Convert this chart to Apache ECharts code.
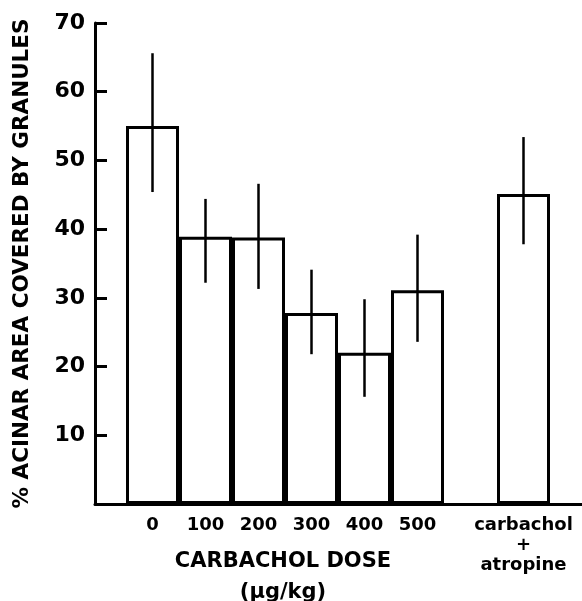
<!DOCTYPE html>
<html>
<head>
<meta charset="utf-8">
<script src="https://cdn.jsdelivr.net/npm/echarts@6/dist/echarts.min.js"></script>
<style>html,body{margin:0;padding:0;background:#fff}#c{width:582px;height:601px}</style>
</head>
<body>
<div id="c"></div>
<script>
var categories = ['0', '100', '200', '300', '400', '500', '', 'carbachol\n+\natropine'];
var means = [55, 38.9, 38.8, 27.8, 22, 31.1, null, 45.1];
var errLow = [45.4, 32.2, 31.3, 21.8, 15.6, 23.6, null, 37.8];
var errHigh = [65.6, 44.4, 46.6, 34.1, 29.8, 39.2, null, 53.4];
var yTicks = [10, 20, 30, 40, 50, 60, 70];

var chart = echarts.init(document.getElementById('c'));
var errData = [];
for (var i = 0; i < categories.length; i++) {
  if (errLow[i] != null) errData.push([i, errLow[i], errHigh[i]]);
}
var FONT = 'DejaVu Sans';
chart.setOption({
  animation: false,
  backgroundColor: '#fff',
  grid: [
    {left: 95, right: 0, top: 23, bottom: 97, containLabel: false, outerBoundsMode: 'none'},
    {left: 126, right: 32, top: 23, bottom: 97, containLabel: false, outerBoundsMode: 'none'}
  ],
  xAxis: [
    {gridIndex: 0, type: 'value', min: 0, max: 1,
     axisLine: {show: true, lineStyle: {color: '#000', width: 3}},
     axisTick: {show: false}, axisLabel: {show: false}, splitLine: {show: false}},
    {gridIndex: 1, type: 'category', data: categories, boundaryGap: true,
     axisLine: {show: false}, axisTick: {show: false}, splitLine: {show: false},
     axisLabel: {color: '#000', fontFamily: FONT, fontWeight: 'bold', fontSize: 18,
       margin: 11, lineHeight: 20, interval: 0}}
  ],
  yAxis: [
    {gridIndex: 0, type: 'value', min: 0, max: 70, interval: 10,
     axisLine: {show: true, lineStyle: {color: '#000', width: 3}},
     axisTick: {show: true, inside: true, length: 12, lineStyle: {color: '#000', width: 3}},
     axisLabel: {color: '#000', fontFamily: FONT, fontWeight: 'bold', fontSize: 22, margin: 10,
       formatter: function (v) { return yTicks.indexOf(v) >= 0 ? String(v) : ''; }},
     splitLine: {show: false},
     name: '% ACINAR AREA COVERED BY GRANULES', nameLocation: 'middle', nameRotate: 90, nameGap: 62,
     nameTextStyle: {color: '#000', fontFamily: FONT, fontWeight: 'bold', fontSize: 21.5}},
    {gridIndex: 1, type: 'value', min: 0, max: 70, interval: 10, show: false}
  ],
  graphic: [
    {type: 'text', x: 283, y: 546, style: {
      text: 'CARBACHOL DOSE\n(μg/kg)', textAlign: 'center', fill: '#000',
      font: 'bold 21px "DejaVu Sans"', lineHeight: 31}}
  ],
  series: [
    {type: 'bar', xAxisIndex: 1, yAxisIndex: 1, data: means, barCategoryGap: '0%',
     itemStyle: {color: 'rgba(255,255,255,0)', borderColor: '#000', borderWidth: 3}},
    {type: 'custom', xAxisIndex: 1, yAxisIndex: 1, data: errData, z: 5,
     renderItem: function (params, api) {
       var lo = api.coord([api.value(0), api.value(1)]);
       var hi = api.coord([api.value(0), api.value(2)]);
       return {type: 'line', shape: {x1: lo[0], y1: lo[1], x2: hi[0], y2: hi[1]},
         style: {stroke: '#000', lineWidth: 2.5}};
     }}
  ]
});
</script>
</body>
</html>
